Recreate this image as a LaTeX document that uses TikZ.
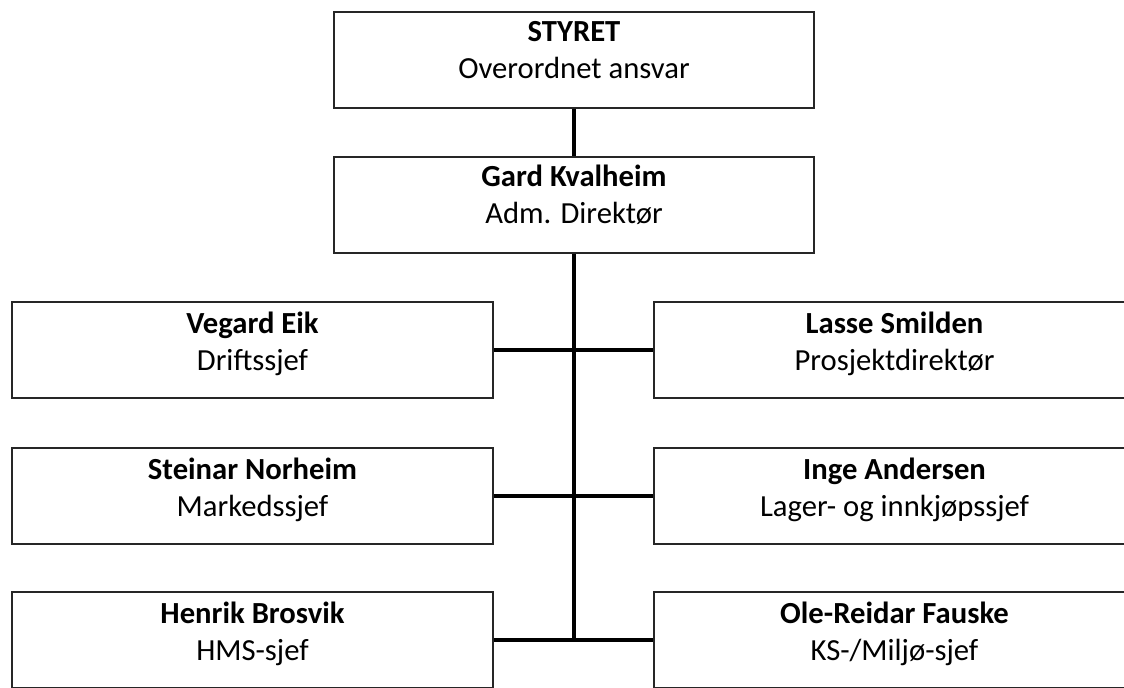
\documentclass[tikz,border=0pt]{standalone}
\usepackage{fontspec}
\setmainfont{Carlito}
\tikzset{
  box/.style={rectangle, draw=black!85, line width=1pt, inner sep=0pt, minimum width=12.025cm, minimum height=2.4cm},
  txt/.style={anchor=north, align=center, inner sep=0pt, font=\fontsize{21.8}{26.3}\selectfont},
  link/.style={line width=2.8pt, black}
}

\begin{document}
\begin{tikzpicture}[x=0.025cm, y=-0.025cm]
  \useasboundingbox (0,0) rectangle (1124,687);
  \clip (0,0) rectangle (1124,687);

\begin{scope}[every node/.style={box}]
  \draw node[minimum width=12cm] (styret) at (574,60) {};
  \draw node[minimum width=12cm] (gard) at (574,205) {};
  \draw node (vegard) at (252.5,350) {};
  \draw node (lasse) at (894.5,350) {};
  \draw node (steinar) at (252.5,496) {};
  \draw node (inge) at (894.5,496) {};
  \draw node (henrik) at (252.5,640) {};
  \draw node (ole) at (894.5,640) {};
\end{scope}

\begin{scope}[every node/.style={txt}]
  \draw node at (574,15) {\strut\textbf{STYRET}\\\strut Overordnet ansvar};
  \draw node at (574,160) {\strut\textbf{Gard Kvalheim}\\\strut Adm. Direktør};
  \draw node at (252.5,307) {\strut\textbf{Vegard Eik}\\\strut Driftssjef};
  \draw node at (894.5,307) {\strut\textbf{Lasse Smilden}\\\strut Prosjektdirektør};
  \draw node at (252.5,453) {\strut\textbf{Steinar Norheim}\\\strut Markedssjef};
  \draw node at (894.5,453) {\strut\textbf{Inge Andersen}\\\strut Lager- og innkjøpssjef};
  \draw node at (252.5,597) {\strut\textbf{Henrik Brosvik}\\\strut HMS-sjef};
  \draw node at (894.5,597) {\strut\textbf{Ole-Reidar Fauske}\\\strut KS-/Miljø-sjef};
\end{scope}

  % linjer mellom boksene
  \draw[link] (styret) -- (gard);
  \draw[link] (gard.south) -- (gard.south |- henrik.east);
  \draw[link] (vegard) -- (lasse);
  \draw[link] (steinar) -- (inge);
  \draw[link] (henrik) -- (ole);
\end{tikzpicture}
\end{document}
